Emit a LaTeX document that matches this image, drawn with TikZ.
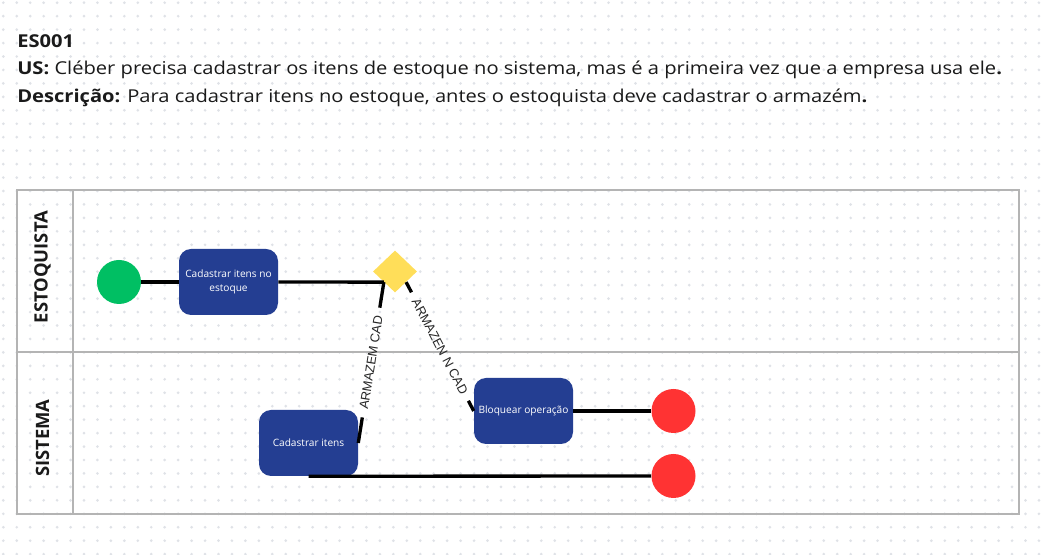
\documentclass[tikz,border=0pt]{standalone}
\usepackage{fontspec}
\setmainfont{Open Sans}
\newfontfamily\topfont{Open Sans}[FakeStretch=1.135]
\newfontfamily\lblfont{Liberation Sans}
\usepackage{tikz}
\usetikzlibrary{shapes.geometric}
\definecolor{boxblue}{RGB}{36,62,146}
\definecolor{startgreen}{RGB}{0,191,99}
\definecolor{gateyellow}{RGB}{255,222,89}
\definecolor{endred}{RGB}{255,51,51}
\definecolor{lanegray}{RGB}{180,180,180}
\definecolor{dotgray}{RGB}{223,226,231}
\definecolor{ink}{RGB}{26,26,26}

\begin{document}
\begin{tikzpicture}[x=0.75pt,y=-0.75pt,
		act/.style={fill=boxblue, rounded corners=9pt, minimum width=74.25pt, minimum height=49.5pt, text=white, align=center, font=\fontsize{7.6}{10.5}\selectfont, inner sep=2pt},
		ev/.style={circle, minimum size=33pt, inner sep=0pt},
		flow/.style={line width=2.5pt},
		lane/.style={draw=lanegray, line width=0.8pt},
		cond/.style={sloped, font=\lblfont\fontsize{9.6}{11}\selectfont, text=black!85, inner xsep=6pt, inner ysep=0pt},
		head/.style={rotate=90, font=\bfseries\fontsize{13.8}{16}\selectfont, text=ink},
		txt/.style={anchor=base west, inner sep=0pt, font=\topfont\fontsize{13.3}{16}\selectfont, text=ink}]
		\useasboundingbox (0,0) rectangle (1047,555);
		\fill[white] (0,0) rectangle (1047,555);
		\foreach \i in {0,...,77}
			\foreach \j in {0,...,41}
				\fill[dotgray] (3.3+13.45*\i, 2.7+13.45*\j) circle [radius=1.1pt];

		\node[txt] (id) at (17,48) {\textbf{ES001}};
		\node[txt] (us) at (17,75) {\textbf{US:} Cléber precisa cadastrar os itens de estoque no sistema, mas é a primeira vez que a empresa usa ele\textbf{.}};
		\node[txt] (desc) at (17,103) {\textbf{Descrição:} Para cadastrar itens no estoque, antes o estoquista deve cadastrar o armazém\textbf{.}};

		\draw[lane] (17,190) rectangle (1019,514);
		\draw[lane] (73,190) -- (73,514);
		\draw[lane] (17,352) -- (1019,352);
		\node[head] (estoq) at (42.5,267) {ESTOQUISTA};
		\node[head] (sist) at (42.5,438) {SISTEMA};

		\node[ev, fill=startgreen] (start) at (119,282) {};
		\node[act] (cadest) at (228.5,282) {Cadastrar itens no\\estoque};
		\node[diamond, fill=gateyellow, minimum width=33pt, minimum height=31.5pt, inner sep=0pt] (gate) at (395,271.5) {};
		\node[act] (cadit) at (308.5,443) {Cadastrar itens};
		\node[act] (bloq) at (523.5,411) {Bloquear operação};
		\node[ev, fill=endred] (end1) at (673.5,411) {};
		\node[ev, fill=endred] (end2) at (673.5,476) {};

		\draw[flow] (start) -- (cadest);
		\draw[flow] (cadest.east) -- (gate.south west);
		\path (gate.south west) -- node[cond] (cad) {ARMAZEM CAD} (cadit.east);
		\draw[flow] (gate.south west) -- (cad.east);
		\draw[flow] (cad.west) -- (cadit.east);
		\path (gate.south east) -- node[cond] (ncad) {ARMAZEN N CAD} (bloq.west);
		\draw[flow] (gate.south east) -- (ncad.west);
		\draw[flow] (ncad.east) -- (bloq.west);
		\draw[flow] (bloq) -- (end1);
		\draw[flow] (cadit.south) -- (end2.west);
	\end{tikzpicture}
\end{document}
